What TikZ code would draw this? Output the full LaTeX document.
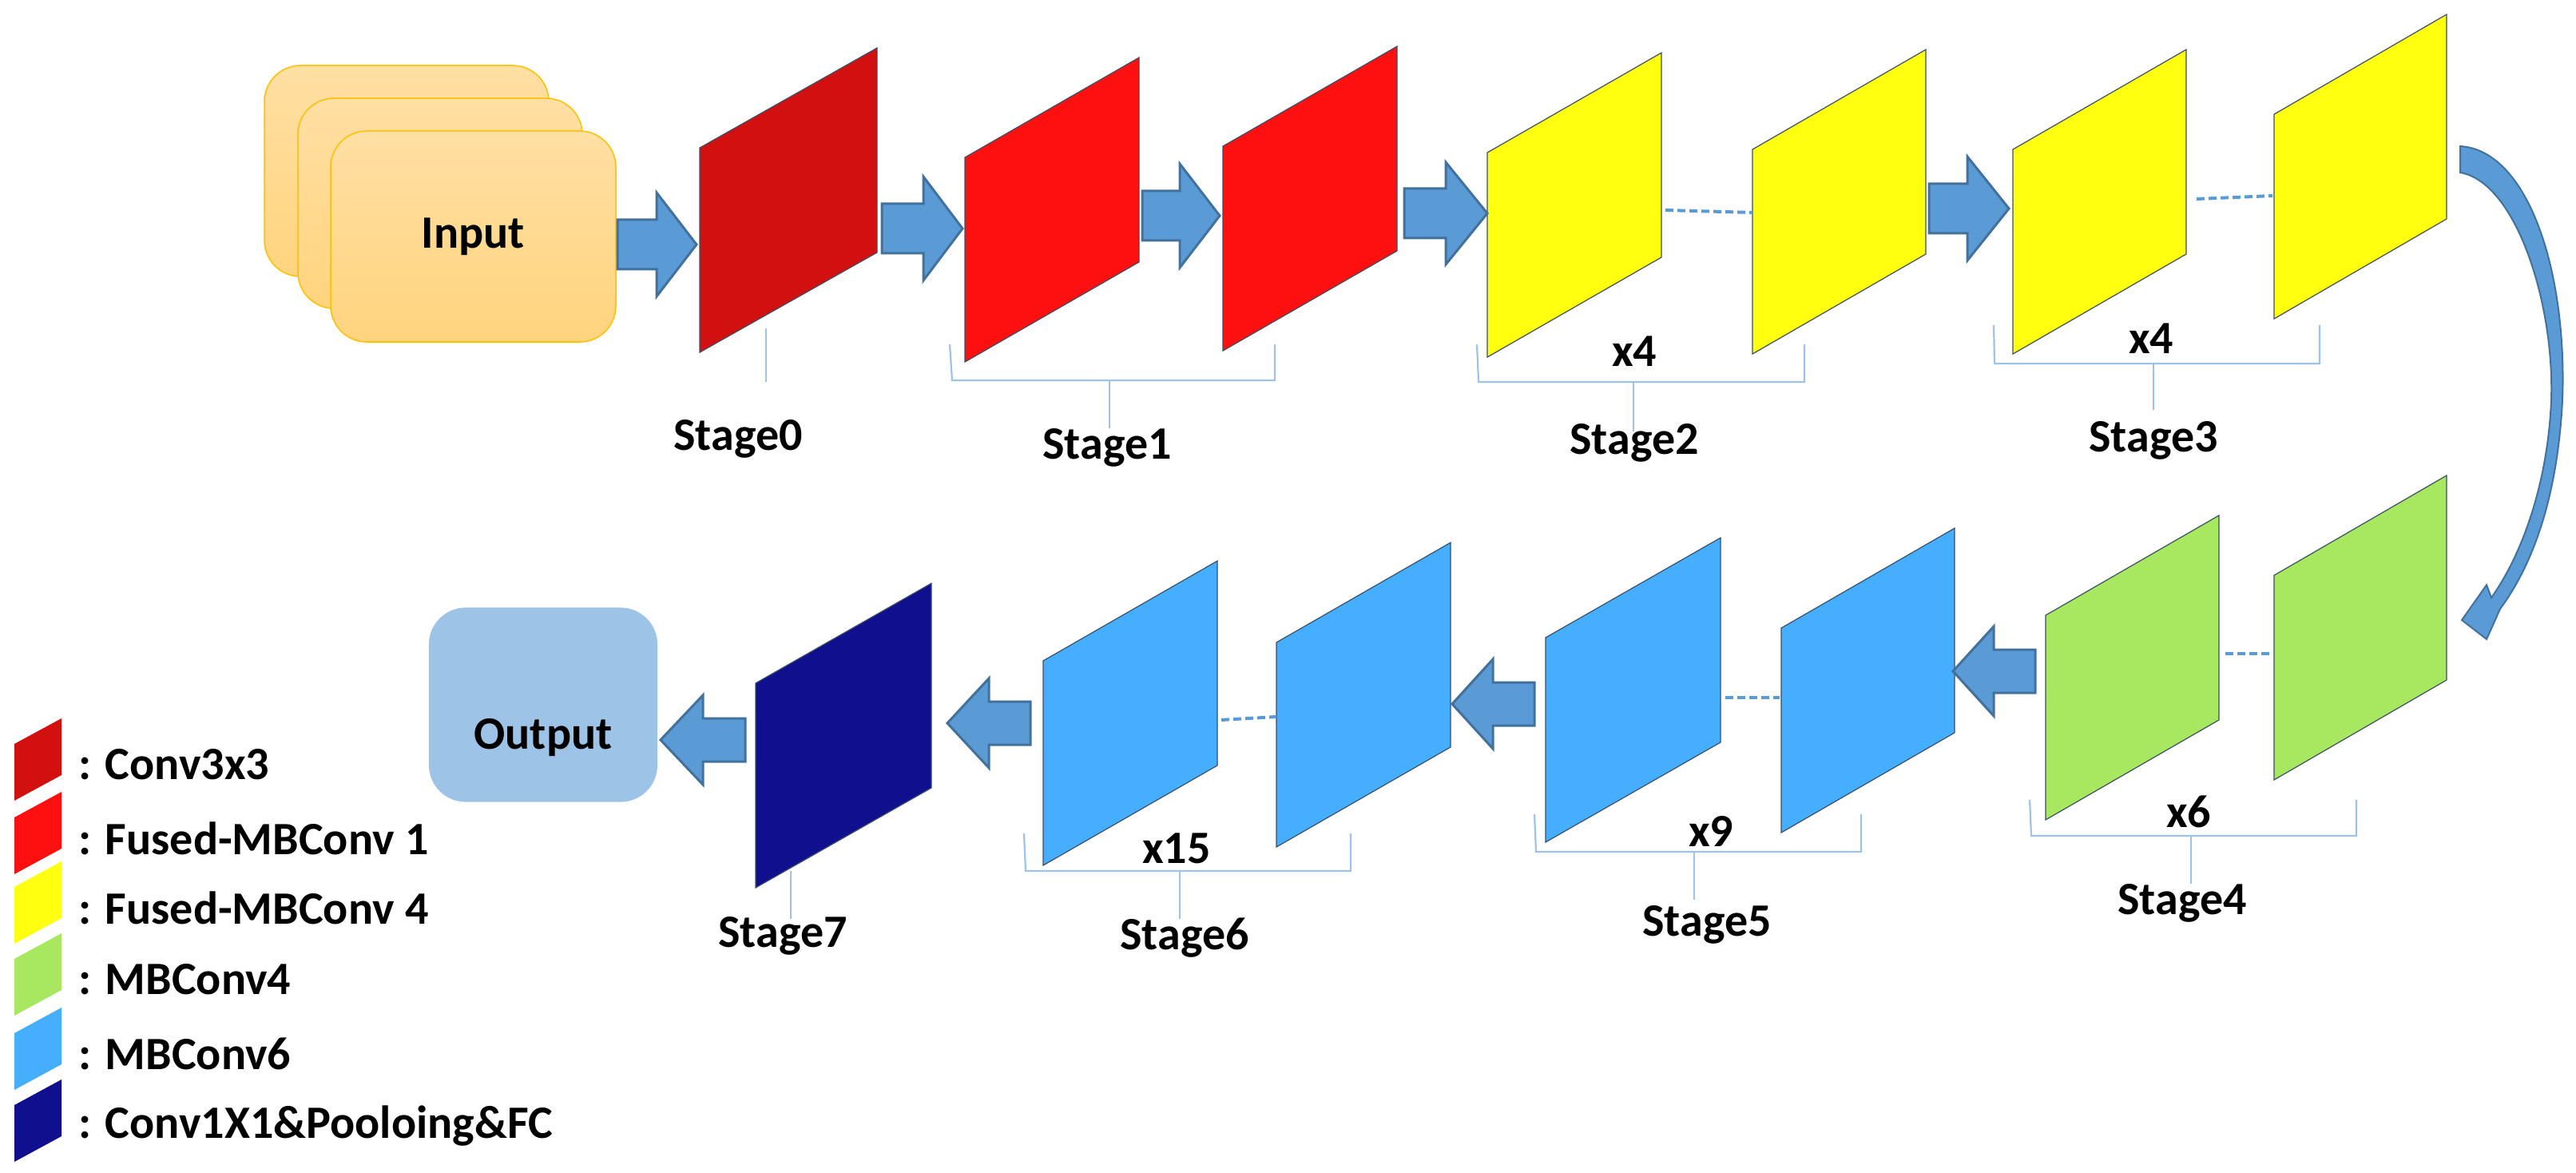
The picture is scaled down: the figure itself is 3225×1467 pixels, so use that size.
\documentclass[tikz,border=0pt]{standalone}
\usepackage{fontspec}
\setmainfont{Carlito}
\begin{document}
\definecolor{cA}{HTML}{D31010}
\definecolor{cB}{HTML}{FF1010}
\definecolor{cC}{HTML}{FFFF10}
\definecolor{cD}{HTML}{A8E860}
\definecolor{cE}{HTML}{45AEFF}
\definecolor{cF}{HTML}{10108F}
\definecolor{arrf}{HTML}{5B9BD5}
\definecolor{arrd}{HTML}{41719C}
\definecolor{brkc}{HTML}{9DC3E6}
\definecolor{outf}{HTML}{9DC3E6}
\definecolor{inbd}{HTML}{FFC000}
\definecolor{pline}{HTML}{3A4F66}
\tikzset{
 lbl/.style={font=\fontsize{16.5}{20}\selectfont\bfseries, text=black},
 brk/.style={draw=brkc, line width=0.022cm},
 dsh/.style={draw=arrf, line width=0.04cm, dash pattern=on 0.1cm off 0.05cm},
 blk/.style={fill=arrf, draw=arrd, line width=0.03cm, line join=miter},
 panel/.style={draw=pline, line width=0.012cm},
 inbox/.style={draw=inbd, line width=0.015cm, rounded corners=0.45cm, top color=cInT, bottom color=cInB},
}
\definecolor{cInT}{HTML}{FFDFA3}
\definecolor{cInB}{HTML}{FFD47E}
% #1 name, #2 left x, #3 left-top y, #4 colour, #5 width
\newcommand{\mypara}[5]{%
 \fill[#4] (#2,#3) -- (#2,#3+256) -- (#2+#5,#3+131) -- (#2+#5,#3-125) -- cycle;
 \draw[panel] (#2,#3) -- (#2,#3+256) -- (#2+#5,#3+131) -- (#2+#5,#3-125) -- cycle;
 \coordinate (#1) at (#2+#5/2,#3+65);}
% #1 base x, #2 head base x, #3 tip x, #4 centre y, #5 shaft half, #6 head half
\newcommand{\myarrow}[6]{%
 \draw[blk] (#1,#4-#5) -- (#2,#4-#5) -- (#2,#4-#6) -- (#3,#4) -- (#2,#4+#6) -- (#2,#4+#5) -- (#1,#4+#5) -- cycle;}
\newcommand{\mylegend}[3]{%
 \fill[#1] (18,#2) -- (18,#2+71) -- (77,#2+39) -- (77,#2-32) -- cycle;
 \node[lbl, anchor=west] at (86,#2+26) {#3};}
\begin{tikzpicture}[x=0.01cm, y=-0.01cm]
\useasboundingbox (0,0) rectangle (3225,1467);
% input stack
\draw[inbox] (331,82) rectangle (687,346);
\draw[inbox] (373,123) rectangle (729,386);
\draw[inbox] (414,164) rectangle (771,428);
\node[lbl] (input) at (592,296) {Input};
% output
\node[lbl, fill=outf, rounded corners=0.46cm, minimum width=2.86cm, minimum height=2.43cm, text height=1.2cm] (output) at (680,882) {Output};
% row 1 panels
\mypara{s0}{876}{185}{cA}{222}
\mypara{s1a}{1208}{197}{cB}{218}
\mypara{s1b}{1531}{183}{cB}{218}
\mypara{s2a}{1862}{191}{cC}{218}
\mypara{s2b}{2194}{187}{cC}{217}
\mypara{s3a}{2520}{187}{cC}{217}
\mypara{s3b}{2847}{143}{cC}{216}
% row 2 panels
\mypara{s4a}{2561}{770}{cD}{217}
\mypara{s4b}{2847}{720}{cD}{216}
\mypara{s5a}{1935}{798}{cE}{219}
\mypara{s5b}{2230}{786}{cE}{217}
\mypara{s6a}{1306}{827}{cE}{218}
\mypara{s6b}{1598}{804}{cE}{218}
\mypara{s7}{946}{855}{cF}{220}
% block arrows
\myarrow{773}{822}{872}{306}{31}{65}
\myarrow{1104}{1156}{1205}{286}{31}{65}
\myarrow{1430}{1477}{1527}{270}{31}{65}
\myarrow{1758}{1810}{1862}{267}{31}{64}
\myarrow{2415}{2463}{2515}{261}{31}{65}
\myarrow{2548}{2496}{2445}{840}{27}{56}
\myarrow{1921}{1869}{1818}{881}{27}{56}
\myarrow{1290}{1238}{1186}{905}{27}{56}
\myarrow{933}{880}{827}{926}{27}{56}
% dashed continuations
\draw[dsh] (2085,263) -- (2194,266);
\draw[dsh] (2750,249) -- (2845,245);
\draw[dsh] (2786,818) -- (2845,818);
\draw[dsh] (2160,873) -- (2228,873);
\draw[dsh] (1529,901) -- (1598,897);
% curved arrow
\draw[blk, line width=0.02cm] (3080,183) .. controls (3165,188) and (3214,340) .. (3208,500)
  .. controls (3202,620) and (3172,705) .. (3130,762) -- (3113,800) -- (3082,776) -- (3113,732)
  -- (3119,748) .. controls (3160,690) and (3190,600) .. (3194,500)
  .. controls (3198,380) and (3150,228) .. (3080,216) -- cycle;
% brackets and labels
\draw[brk] (959,411) -- (959,478);
\node[lbl] (l0) at (924,549) {Stage0};
\draw[brk] (1189,431) -- (1192,476) -- (1596,476) -- (1596,431);
\draw[brk] (1389,476) -- (1389,536);
\node[lbl] (l1) at (1386,560) {Stage1};
\draw[brk] (1849,431) -- (1851,478) -- (2259,478) -- (2259,431);
\draw[brk] (2045,478) -- (2045,540);
\node[lbl] at (2046,440) {x4};
\node[lbl] (l2) at (2046,554) {Stage2};
\draw[brk] (2496,407) -- (2497,455) -- (2904,455) -- (2904,407);
\draw[brk] (2696,455) -- (2696,513);
\node[lbl] at (2693,424) {x4};
\node[lbl] (l3) at (2696,551) {Stage3};
\draw[brk] (2541,1001) -- (2543,1046) -- (2950,1046) -- (2950,1001);
\draw[brk] (2743,1046) -- (2743,1106);
\node[lbl] at (2740,1016) {x6};
\node[lbl] (l4) at (2732,1130) {Stage4};
\draw[brk] (1921,1019) -- (1923,1066) -- (2330,1066) -- (2330,1019);
\draw[brk] (2121,1066) -- (2121,1126);
\node[lbl] at (2142,1040) {x9};
\node[lbl] (l5) at (2137,1157) {Stage5};
\draw[brk] (1282,1043) -- (1284,1090) -- (1691,1090) -- (1691,1043);
\draw[brk] (1477,1090) -- (1477,1150);
\node[lbl] at (1473,1062) {x15};
\node[lbl] (l6) at (1483,1174) {Stage6};
\draw[brk] (990,1090) -- (990,1150);
\node[lbl] (l7) at (980,1171) {Stage7};
% legend
\mylegend{cA}{931}{: Conv3x3}
\mylegend{cB}{1023}{: Fused-MBConv 1}
\mylegend{cC}{1110}{: Fused-MBConv 4}
\mylegend{cD}{1200}{: MBConv4}
\mylegend{cE}{1293}{: MBConv6}
\mylegend{cF}{1383}{: Conv1X1\&Pooloing\&FC}
\end{tikzpicture}
\end{document}
